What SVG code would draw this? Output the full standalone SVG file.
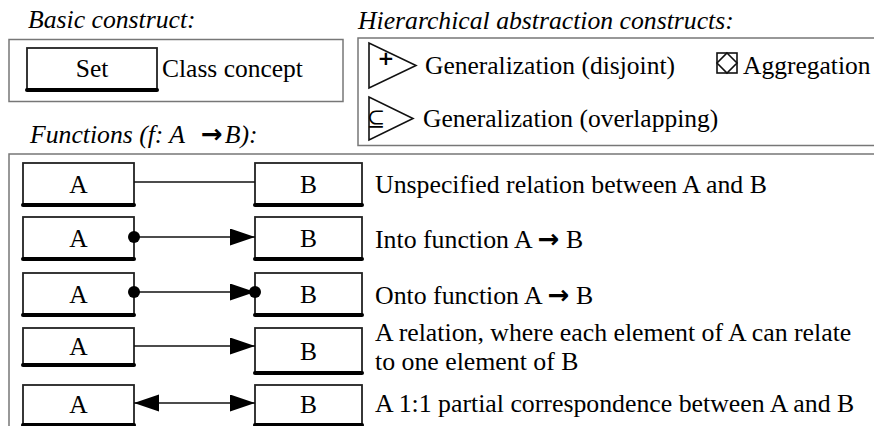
<svg xmlns="http://www.w3.org/2000/svg" width="874" height="426" viewBox="0 0 874 426">
<style>
.bg{fill:#fff}
.box{fill:#fff;stroke:#222;stroke-width:1.8}
.base{stroke:#000;stroke-width:4;stroke-linecap:round}
.t{font-family:"Liberation Serif","Times New Roman",serif;font-size:25.5px;fill:#000}
.d{font-size:25.8px}
.ti{font-family:"Liberation Serif","Times New Roman",serif;font-size:25.7px;font-style:italic;fill:#000}
.ar{font-family:"DejaVu Sans",sans-serif;font-weight:bold;font-style:normal;font-size:26px}
.m{text-anchor:middle}
.frame{fill:none;stroke:#777;stroke-width:1.5}
.conn{stroke:#111;stroke-width:1.6;fill:none}
.sym{fill:#fff;stroke:#111;stroke-width:1.6}
.dot{fill:#000}
</style>
<defs>
<marker id="arr" markerUnits="userSpaceOnUse" markerWidth="27" markerHeight="18" refX="25" refY="8.5" orient="auto-start-reverse" viewBox="0 0 27 18">
<path d="M0,0 L25,8.5 L0,17 z" fill="#000"/>
</marker>
<marker id="dot" markerUnits="userSpaceOnUse" markerWidth="14" markerHeight="14" refX="7" refY="7" viewBox="0 0 14 14">
<circle cx="7" cy="7" r="6" fill="#000"/>
</marker>
</defs>
<rect class="bg" x="0" y="0" width="874" height="426"/>

<g id="titles">
<text class="ti" x="28" y="28">Basic construct:</text>
<text class="ti" x="358" y="29">Hierarchical abstraction constructs:</text>
<text class="ti" x="30" y="143">Functions (f: A <tspan dx="10" class="ar">→</tspan><tspan dx="2">B):</tspan></text>
</g>

<g id="frames">
<rect class="frame" x="9" y="39.5" width="334" height="62"/>
<rect class="frame" x="358" y="38" width="530" height="107.5"/>
<rect class="frame" x="9" y="154" width="880" height="290"/>
</g>

<g id="set">
<rect class="box" x="27" y="48" width="130" height="42"/>
<line class="base" x1="27" y1="90" x2="157" y2="90"/>
<text class="t m" x="92" y="77">Set</text>
<text class="t" x="162" y="77">Class concept</text>
</g>

<g id="gen-disjoint">
<polygon class="sym" points="369,43 369,88 416,65.5"/>
<text class="m" x="386" y="65" style="font-family:'DejaVu Sans',sans-serif;font-weight:bold;font-size:20px;fill:#000">+</text>
<text class="t" x="425" y="74">Generalization (disjoint)</text>
</g>

<g id="aggregation">
<rect class="sym" x="717" y="53" width="20" height="20"/>
<polygon class="sym" points="727,53 737,63 727,73 717,63"/>
<text class="t" x="743" y="74">Aggregation</text>
</g>

<g id="gen-overlap">
<polygon class="sym" points="369,97 369,140 413,118.5"/>
<text class="t m" x="376" y="126" style="font-family:'DejaVu Serif',serif;font-size:22px">⊆</text>
<text class="t" x="423" y="127">Generalization (overlapping)</text>
</g>

<g id="row1-a"><rect class="box" x="23" y="163" width="111" height="42"/><line class="base" x1="23" y1="205" x2="134" y2="205"/><text class="t m" x="78.5" y="193">A</text></g>
<g id="row1-b"><rect class="box" x="255" y="163" width="107" height="42"/><line class="base" x1="255" y1="205" x2="362" y2="205"/><text class="t m" x="308.5" y="193">B</text></g>
<g id="row2-a"><rect class="box" x="23" y="217" width="111" height="42"/><line class="base" x1="23" y1="259" x2="134" y2="259"/><text class="t m" x="78.5" y="247">A</text></g>
<g id="row2-b"><rect class="box" x="255" y="217" width="107" height="42"/><line class="base" x1="255" y1="259" x2="362" y2="259"/><text class="t m" x="308.5" y="247">B</text></g>
<g id="row3-a"><rect class="box" x="23" y="273" width="111" height="42"/><line class="base" x1="23" y1="315" x2="134" y2="315"/><text class="t m" x="78.5" y="303">A</text></g>
<g id="row3-b"><rect class="box" x="255" y="273" width="107" height="42"/><line class="base" x1="255" y1="315" x2="362" y2="315"/><text class="t m" x="308.5" y="303">B</text></g>
<g id="row4-a"><rect class="box" x="23" y="328" width="111" height="37"/><line class="base" x1="23" y1="365" x2="134" y2="365"/><text class="t m" x="78.5" y="355">A</text></g>
<g id="row4-b"><rect class="box" x="255" y="328" width="107" height="45"/><line class="base" x1="255" y1="373" x2="362" y2="373"/><text class="t m" x="308.5" y="360">B</text></g>
<g id="row5-a"><rect class="box" x="23" y="385" width="111" height="40"/><line class="base" x1="23" y1="425" x2="134" y2="425"/><text class="t m" x="78.5" y="413">A</text></g>
<g id="row5-b"><rect class="box" x="255" y="385" width="107" height="40"/><line class="base" x1="255" y1="425" x2="362" y2="425"/><text class="t m" x="308.5" y="413">B</text></g>

<g id="connectors">
<line class="conn" x1="134" y1="182" x2="255" y2="182"/>
<line class="conn" x1="134" y1="237" x2="255" y2="237" marker-start="url(#dot)" marker-end="url(#arr)"/>
<line class="conn" x1="134" y1="292" x2="255" y2="292" marker-start="url(#dot)" marker-end="url(#arr)"/>
<circle class="dot" cx="255" cy="292" r="6"/>
<line class="conn" x1="134" y1="346" x2="255" y2="346" marker-end="url(#arr)"/>
<line class="conn" x1="134" y1="403" x2="255" y2="403" marker-start="url(#arr)" marker-end="url(#arr)"/>
</g>

<g id="descriptions">
<text class="t d" x="375" y="193">Unspecified relation between A and B</text>
<text class="t d" x="375" y="248">Into function A <tspan class="ar">→</tspan> B</text>
<text class="t d" x="375" y="304">Onto function A <tspan class="ar">→</tspan> B</text>
<text class="t d" x="375" y="341">A relation, where each element of A can relate</text>
<text class="t d" x="375" y="370">to one element of B</text>
<text class="t d" x="375" y="412">A 1:1 partial correspondence between A and B</text>
</g>
</svg>
